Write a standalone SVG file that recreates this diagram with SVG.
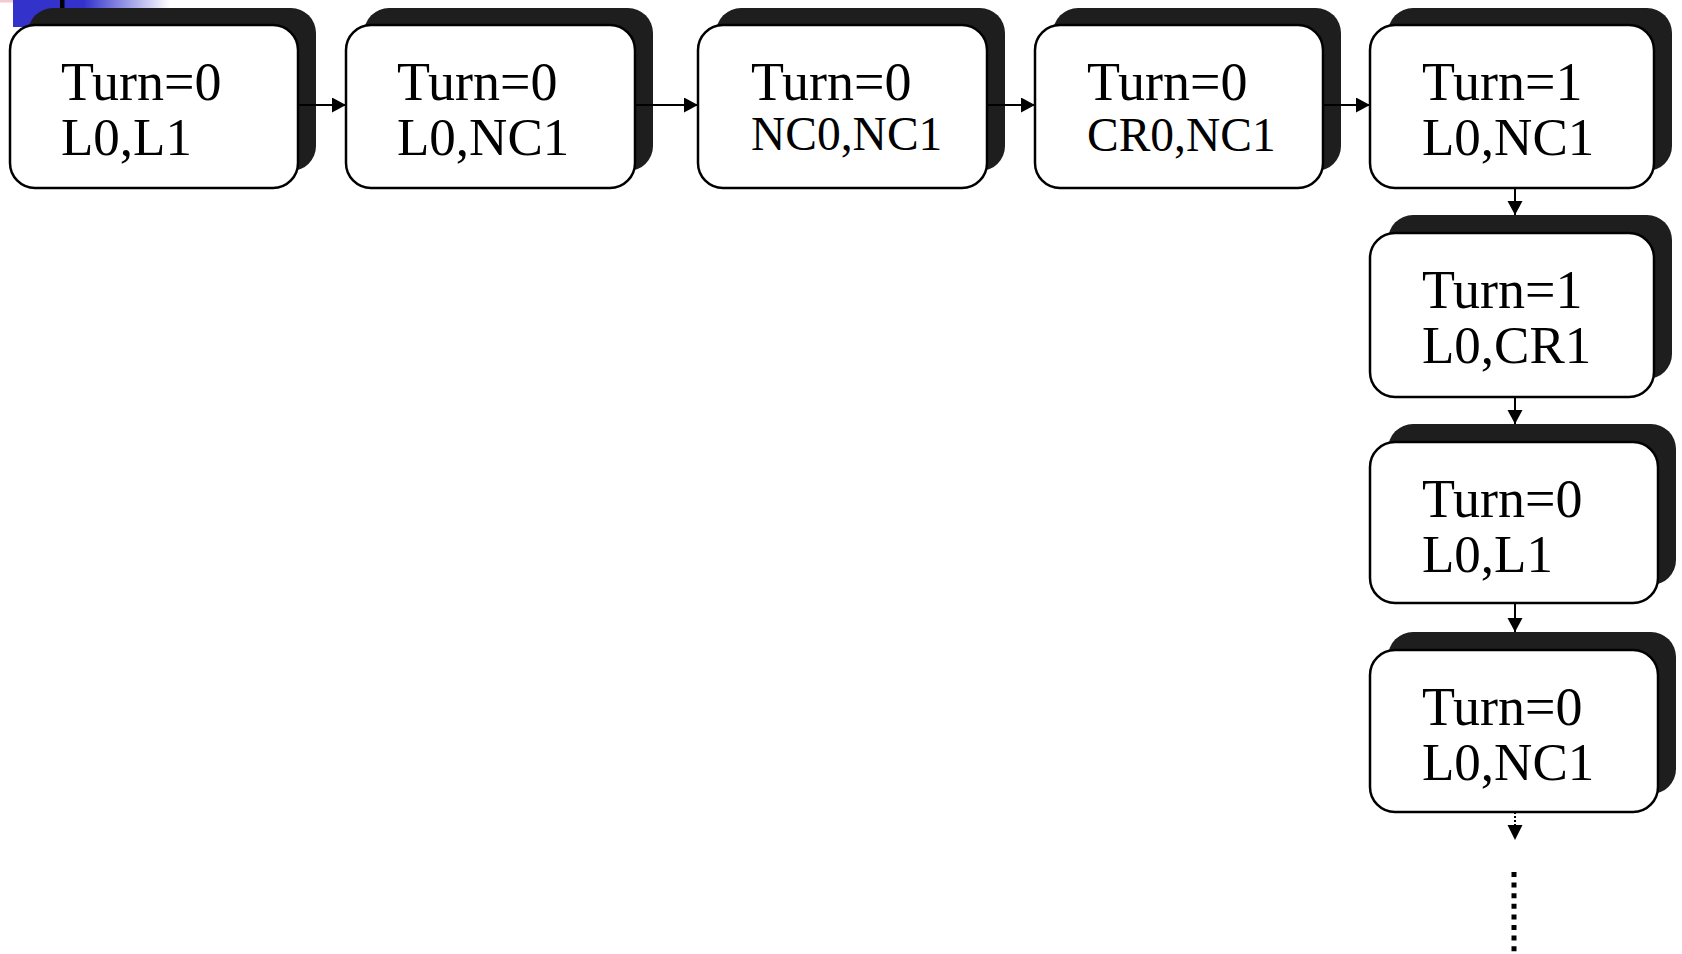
<svg xmlns="http://www.w3.org/2000/svg" width="1682" height="954" viewBox="0 0 1682 954">
  <style>
    .shadow { fill: #1e1e1e; }
    .box { fill: #ffffff; stroke: #000000; stroke-width: 2.5; }
    .t1 { font-family: "Liberation Serif", "Times New Roman", serif; font-size: 54px; fill: #000000; }
    .t2 { font-family: "Liberation Serif", "Times New Roman", serif; font-size: 53px; fill: #000000; }
    .t2s { font-family: "Liberation Serif", "Times New Roman", serif; font-size: 47.5px; fill: #000000; }
    .edge { stroke: #000000; stroke-width: 2; fill: none; marker-end: url(#head); }
    .edge-dot { stroke: #000000; stroke-width: 2; fill: none; stroke-dasharray: 2 2; }
    .ellipsis { stroke: #000000; stroke-width: 5; fill: none; stroke-dasharray: 5 5.6; }
  </style>
  <defs>
    <marker id="head" markerUnits="userSpaceOnUse" markerWidth="15" markerHeight="16" refX="14" refY="7.5" orient="auto">
      <path d="M0,0 L14,7.5 L0,15 Z" fill="#000000"/>
    </marker>
    <linearGradient id="band" x1="0" y1="0" x2="1" y2="0">
      <stop offset="0" stop-color="#3333cc"/>
      <stop offset="0.45" stop-color="#3333cc"/>
      <stop offset="1" stop-color="#ffffff"/>
    </linearGradient>
  </defs>

  <!-- corner decoration -->
  <g id="corner">
    <rect x="0" y="0" width="43" height="2.5" fill="#f6c8cf"/>
    <rect x="13" y="0" width="157" height="27" fill="url(#band)"/>
    <rect x="60" y="0" width="4.5" height="12" fill="#000000"/>
  </g>

  <!-- state nodes: shadow offset (+18,-17), white rounded box, two text lines -->
  <g id="s1">
    <rect class="shadow" x="28" y="8" width="288" height="163" rx="25"/>
    <rect class="box" x="10" y="25" width="288" height="163" rx="25"/>
    <text class="t1" x="61" y="100">Turn=0</text>
    <text class="t2" x="61" y="155">L0,L1</text>
  </g>
  <g id="s2">
    <rect class="shadow" x="364" y="8" width="289" height="163" rx="25"/>
    <rect class="box" x="346" y="25" width="289" height="163" rx="25"/>
    <text class="t1" x="397" y="100">Turn=0</text>
    <text class="t2" x="397" y="155">L0,NC1</text>
  </g>
  <g id="s3">
    <rect class="shadow" x="716" y="8" width="289" height="163" rx="25"/>
    <rect class="box" x="698" y="25" width="289" height="163" rx="25"/>
    <text class="t1" x="751" y="100">Turn=0</text>
    <text class="t2s" x="751" y="150">NC0,NC1</text>
  </g>
  <g id="s4">
    <rect class="shadow" x="1053" y="8" width="288" height="163" rx="25"/>
    <rect class="box" x="1035" y="25" width="288" height="163" rx="25"/>
    <text class="t1" x="1087" y="100">Turn=0</text>
    <text class="t2s" x="1087" y="151">CR0,NC1</text>
  </g>
  <g id="s5">
    <rect class="shadow" x="1388" y="8" width="284" height="163" rx="25"/>
    <rect class="box" x="1370" y="25" width="284" height="163" rx="25"/>
    <text class="t1" x="1422" y="100">Turn=1</text>
    <text class="t2" x="1422" y="155">L0,NC1</text>
  </g>
  <g id="s6">
    <rect class="shadow" x="1388" y="215" width="284" height="164" rx="25"/>
    <rect class="box" x="1370" y="233" width="284" height="164" rx="25"/>
    <text class="t1" x="1422" y="308">Turn=1</text>
    <text class="t2" x="1422" y="363">L0,CR1</text>
  </g>
  <g id="s7">
    <rect class="shadow" x="1388" y="424" width="288" height="161" rx="25"/>
    <rect class="box" x="1370" y="442" width="288" height="161" rx="25"/>
    <text class="t1" x="1422" y="517">Turn=0</text>
    <text class="t2" x="1422" y="572">L0,L1</text>
  </g>
  <g id="s8">
    <rect class="shadow" x="1388" y="632" width="288" height="162" rx="25"/>
    <rect class="box" x="1370" y="650" width="288" height="162" rx="25"/>
    <text class="t1" x="1422" y="725">Turn=0</text>
    <text class="t2" x="1422" y="780">L0,NC1</text>
  </g>

  <!-- transitions -->
  <g id="edges">
    <line class="edge" x1="298" y1="105" x2="346" y2="105"/>
    <line class="edge" x1="635" y1="105" x2="698" y2="105"/>
    <line class="edge" x1="987" y1="105" x2="1035" y2="105"/>
    <line class="edge" x1="1323" y1="105" x2="1370" y2="105"/>
    <line class="edge" x1="1515" y1="188" x2="1515" y2="215"/>
    <line class="edge" x1="1515" y1="397" x2="1515" y2="424"/>
    <line class="edge" x1="1515" y1="603" x2="1515" y2="632"/>
    <line class="edge-dot" x1="1515" y1="812" x2="1515" y2="826"/>
    <path d="M1507.5,825 L1522.5,825 L1515,840 Z" fill="#000000"/>
    <line class="ellipsis" x1="1514" y1="872" x2="1514" y2="954"/>
  </g>
</svg>
